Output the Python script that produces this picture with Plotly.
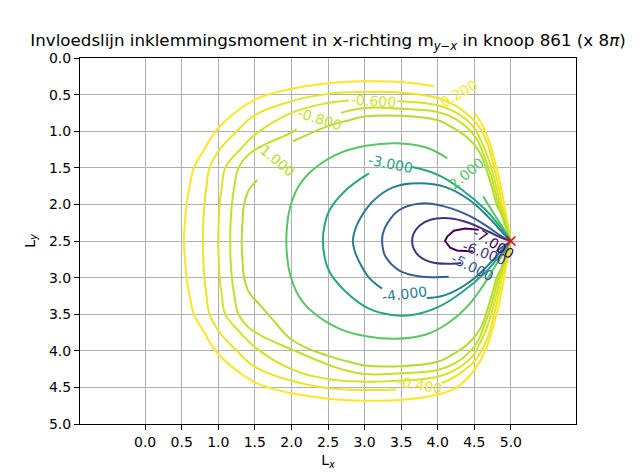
import plotly.graph_objects as go
from plotly.colors import sample_colorscale

# ---------------- data ----------------
levels = [-7.0, -6.0, -5.0, -4.0, -3.0, -2.0, -1.0, -0.8, -0.6, -0.4, -0.2]

# contour lines, data coordinates (None = gap left by an inline label)
c_m02_x = [5.0, 4.965, 4.935, 4.91, 4.87, 4.83, 4.79, 4.75, 4.69, 4.6, 4.51, None,
           3.95, 3.5, 3.0, 2.5, 2.0, 1.75, 1.5, 1.25, 0.98, 0.79, 0.665, 0.61, 0.566, 0.545, 0.53,
           0.545, 0.566, 0.61, 0.665, 0.79, 0.98, 1.25, 1.5, 1.75, 2.0, 2.5, 3.0, 3.5, 3.92, 4.24,
           4.47, 4.6, 4.69, 4.75, 4.79, 4.83, 4.87, 4.91, 4.935, 4.965, 5.0]
c_m02_y = [2.5, 2.3, 2.15, 2.0, 1.8, 1.6, 1.45, 1.3, 1.1, 0.9, 0.76, None,
           0.385, 0.328, 0.318, 0.345, 0.42, 0.48, 0.57, 0.73, 0.98, 1.28, 1.5, 1.75, 2.0, 2.25, 2.5,
           2.75, 3.0, 3.25, 3.5, 3.72, 4.02, 4.27, 4.43, 4.52, 4.58, 4.655, 4.682, 4.672, 4.615, 4.51,
           4.3, 4.1, 3.9, 3.7, 3.55, 3.4, 3.2, 3.0, 2.85, 2.7, 2.5]

c_m04_x = [5.0, 4.955, 4.92, 4.88, 4.84, 4.795, 4.72, 4.65, 4.51, 4.24, 4.0, 3.5, 3.0, 2.5, 2.0,
           1.5, 1.254, 1.02, 0.88, 0.84, 0.81, 0.795, 0.79,
           0.795, 0.81, 0.84, 0.88, 1.02, 1.254, 1.5, 2.0, 2.5, 3.0, 3.43, None,
           4.06, 4.24, 4.51, 4.65, 4.72, 4.795, 4.84, 4.88, 4.92, 4.955, 5.0]
c_m04_y = [2.5, 2.3, 2.15, 2.0, 1.8, 1.6, 1.3, 1.1, 0.87, 0.65, 0.546, 0.473, 0.464, 0.49, 0.59,
           0.78, 1.0, 1.25, 1.5, 1.75, 2.0, 2.25, 2.5,
           2.75, 3.0, 3.25, 3.5, 3.75, 4.0, 4.22, 4.41, 4.51, 4.536, 4.527, None,
           4.44, 4.35, 4.13, 3.9, 3.7, 3.4, 3.2, 3.0, 2.85, 2.7, 2.5]

c_m06_x = [5.0, 4.945, 4.905, 4.855, 4.81, 4.76, 4.665, 4.6, 4.47, 4.24, 4.0, 3.45, None,
           2.79, 2.5, 2.0, 1.5, 1.3, 1.095, 1.05, 1.018, 1.005, 1.0,
           1.005, 1.018, 1.05, 1.095, 1.3, 1.5, 2.0, 2.5, 3.0, 3.45, 4.0, 4.24, 4.47, 4.6,
           4.665, 4.76, 4.81, 4.855, 4.905, 4.945, 5.0]
c_m06_y = [2.5, 2.3, 2.15, 2.0, 1.8, 1.6, 1.3, 1.15, 0.92, 0.74, 0.646, 0.59, None,
           0.58, 0.615, 0.75, 1.05, 1.25, 1.5, 1.75, 2.0, 2.25, 2.5,
           2.75, 3.0, 3.25, 3.5, 3.75, 3.95, 4.25, 4.385, 4.422, 4.41, 4.354, 4.26, 4.08, 3.85,
           3.7, 3.4, 3.2, 3.0, 2.85, 2.7, 2.5]

c_m08_x = [5.0, 4.935, 4.89, 4.83, 4.78, 4.725, 4.62, 4.53, 4.4, 4.24, 4.0, 3.5, 3.0, 2.68, None,
           2.07, 2.0, 1.6, 1.4, 1.276, 1.22, 1.186, 1.168, 1.163,
           1.168, 1.186, 1.22, 1.276, 1.4, 1.6, 2.0, 2.4, 2.68, 3.0, 3.5, 4.0, 4.24, 4.4, 4.53,
           4.62, 4.725, 4.78, 4.83, 4.89, 4.935, 5.0]
c_m08_y = [2.5, 2.3, 2.15, 2.0, 1.8, 1.6, 1.3, 1.1, 0.95, 0.83, 0.737, 0.694, 0.683, 0.75, None,
           0.97, 1.02, 1.2, 1.33, 1.5, 1.75, 2.0, 2.25, 2.5,
           2.75, 3.0, 3.25, 3.5, 3.67, 3.8, 3.98, 4.15, 4.25, 4.317, 4.306, 4.263, 4.17, 4.05, 3.9,
           3.7, 3.4, 3.2, 3.0, 2.85, 2.7, 2.5]

c_m10_x = [5.0, 4.925, 4.875, 4.805, 4.75, 4.69, 4.58, 4.42, 4.15, 4.0, 3.5, 3.0, 2.79, 2.5, 2.02, None,
           1.534, 1.42, 1.353, 1.33, 1.32,
           1.33, 1.353, 1.42, 1.534, 1.75, 2.02, 2.5, 2.79, 3.0, 3.5, 4.0, 4.15, 4.42, 4.58,
           4.69, 4.75, 4.805, 4.875, 4.925, 5.0]
c_m10_y = [2.5, 2.3, 2.15, 2.0, 1.8, 1.6, 1.3, 1.1, 0.92, 0.85, 0.79, 0.80, 0.85, 0.93, 1.14, None,
           1.667, 1.8, 2.0, 2.25, 2.5,
           2.75, 3.0, 3.2, 3.333, 3.58, 3.86, 4.07, 4.15, 4.20, 4.21, 4.15, 4.08, 3.9, 3.7,
           3.4, 3.2, 3.0, 2.85, 2.7, 2.5]

c_m20_x = [5.0, 4.93, 4.8, 4.62, None, 4.13, 3.83, 3.43, 3.02, 2.66, 2.29, 2.1, 1.98, 1.94, 1.93,
           1.94, 1.98, 2.1, 2.29, 2.66, 3.02, 3.43, 3.83, 4.13, 4.4, 4.62, 4.8, 4.93, 5.0]
c_m20_y = [2.5, 2.38, 2.18, 1.89, None, 1.37, 1.22, 1.165, 1.2, 1.30, 1.53, 1.75, 2.05, 2.3, 2.5,
           2.7, 2.95, 3.25, 3.47, 3.70, 3.80, 3.835, 3.78, 3.63, 3.4, 3.11, 2.82, 2.62, 2.5]

c_m30_x = [5.0, 4.85, 4.65, 4.33, 4.01, 3.65, None, 3.06, 2.75, 2.52, 2.45, 2.43,
           2.45, 2.52, 2.75, 3.06, 3.37, 3.65, 4.01, 4.33, 4.65, 4.85, 5.0]
c_m30_y = [2.5, 2.30, 2.07, 1.80, 1.60, 1.49, None, 1.575, 1.80, 2.08, 2.3, 2.5,
           2.7, 2.92, 3.2, 3.425, 3.51, 3.51, 3.40, 3.20, 2.93, 2.70, 2.5]

c_m40_x = [5.0, 4.88, 4.69, 4.42, 4.10, 3.74, 3.38, 3.11, 2.93, 2.86, 2.84,
           2.86, 2.93, 3.06, 3.24, None, 3.85, 4.10, 4.42, 4.69, 4.88, 5.0]
c_m40_y = [2.5, 2.38, 2.17, 1.93, 1.76, 1.71, 1.77, 1.96, 2.21, 2.38, 2.5,
           2.62, 2.79, 3.0, 3.15, None, 3.28, 3.24, 3.07, 2.83, 2.62, 2.5]

c_m50_x = [5.0, 4.88, 4.69, 4.42, 4.10, 3.74, 3.47, 3.31, 3.25, 3.24,
           3.25, 3.29, 3.47, 3.74, 4.15, None, 4.8, 5.0]
c_m50_y = [2.5, 2.44, 2.31, 2.15, 2.03, 1.99, 2.08, 2.26, 2.4, 2.5,
           2.6, 2.72, 2.90, 2.98, 2.99, None, 2.64, 2.5]

c_m60_x = [5.0, 4.88, 4.69, 4.42, 4.15, 3.9, 3.75, 3.67, 3.65, 3.67, 3.74, 3.92, 4.19, 4.32]
c_m60_y = [2.5, 2.46, 2.37, 2.25, 2.19, 2.21, 2.29, 2.4, 2.5, 2.6, 2.70, 2.79, 2.81, 2.80]

c_m70_x = [4.56, 4.375, 4.22, 4.13, 4.10, 4.17, 4.26, 4.375, 4.48]
c_m70_y = [2.345, 2.33, 2.36, 2.44, 2.5, 2.59, 2.63, 2.64, 2.645]

# inline contour labels
label_text = ['-0.200', '-0.400', '-0.600', '-0.800', '-1.000', '-2.000',
              '-3.000', '-4.000', '-5.000', '-6.000', '-7.000']
label_level = [-0.2, -0.4, -0.6, -0.8, -1.0, -2.0, -3.0, -4.0, -5.0, -6.0, -7.0]
label_x = [4.25, 3.75, 3.12, 2.38, 1.78, 4.37, 3.36, 3.545, 4.47, 4.64, 4.76]
label_y = [0.50, 4.47, 0.585, 0.84, 1.38, 1.60, 1.45, 3.22, 2.85, 2.66, 2.53]
label_angle = [-30, 10, 3, 18, 40, -40, 11, -7, 26, 20, 32]

# node marker
node_x = [5.0]
node_y = [2.5]

tick_vals = [0.0, 0.5, 1.0, 1.5, 2.0, 2.5, 3.0, 3.5, 4.0, 4.5, 5.0]
tick_text = ['0.0', '0.5', '1.0', '1.5', '2.0', '2.5', '3.0', '3.5', '4.0', '4.5', '5.0']

# ---------------- figure ----------------
FONT = 'DejaVu Sans'
lo, hi = min(levels), max(levels)


def level_color(v):
    return sample_colorscale('Viridis', [(v - lo) / (hi - lo)])[0]


curves = [
    (-0.2, c_m02_x, c_m02_y), (-0.4, c_m04_x, c_m04_y), (-0.6, c_m06_x, c_m06_y),
    (-0.8, c_m08_x, c_m08_y), (-1.0, c_m10_x, c_m10_y), (-2.0, c_m20_x, c_m20_y),
    (-3.0, c_m30_x, c_m30_y), (-4.0, c_m40_x, c_m40_y), (-5.0, c_m50_x, c_m50_y),
    (-6.0, c_m60_x, c_m60_y), (-7.0, c_m70_x, c_m70_y),
]

fig = go.Figure()
for lev, xs, ys in curves:
    shape = 'linear' if lev == -7.0 else 'spline'
    fig.add_trace(go.Scatter(
        x=xs, y=ys, mode='lines', connectgaps=False, hoverinfo='skip',
        line=dict(color=level_color(lev), width=2, shape=shape, smoothing=1.2),
        showlegend=False))

fig.add_trace(go.Scatter(
    x=node_x, y=node_y, mode='markers', hoverinfo='skip', showlegend=False,
    marker=dict(symbol='x-thin', size=9, color='red', line=dict(color='red', width=1.6))))

for t, lev, lx, ly, ang in zip(label_text, label_level, label_x, label_y, label_angle):
    fig.add_annotation(x=lx, y=ly, xref='x', yref='y', text=t, showarrow=False,
                       textangle=ang, font=dict(family=FONT, size=14, color=level_color(lev)))

axis_common = dict(
    tickvals=tick_vals, ticktext=tick_text, showgrid=True, gridcolor='#b0b0b0', gridwidth=1,
    zeroline=False, showline=True, mirror=True, linecolor='black', linewidth=1,
    ticks='outside', ticklen=5, tickwidth=1, tickcolor='black', automargin=False,
    tickfont=dict(family=FONT, size=14, color='black'),
)

# the page body adds an 8px offset, so the figure is 8px smaller on each side
fig.update_layout(
    width=632, height=468,
    margin=dict(l=72, r=64, t=50, b=52, autoexpand=False),
    paper_bgcolor='white', plot_bgcolor='white',
    showlegend=False,
    title=dict(text='Invloedslijn inklemmingsmoment in x-richting m<sub><i>y\u2212x</i></sub> in knoop 861 (x 8<i>\u03c0</i>)',
               x=0.5, xref='paper', xanchor='center', y=1, yref='paper', yanchor='bottom',
               pad=dict(b=12), font=dict(family=FONT, size=16.7, color='black')),
    xaxis=dict(range=[-0.89, 5.89], title=dict(text='L<sub><i>x</i></sub>', standoff=6,
               font=dict(family=FONT, size=14, color='black')), **axis_common),
    yaxis=dict(range=[5.0, 0.0], title=dict(text='L<sub><i>y</i></sub>', standoff=10,
               font=dict(family=FONT, size=14, color='black')), **axis_common),
)

fig.write_html('out.html')
